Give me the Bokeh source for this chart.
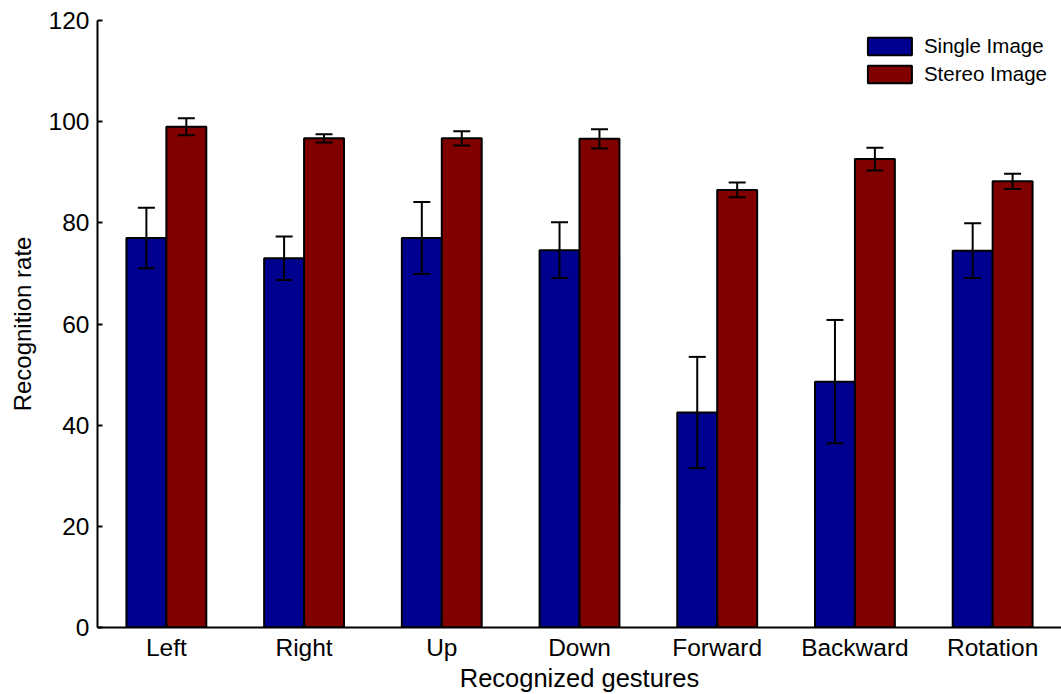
from bokeh.plotting import figure
from bokeh.models import ColumnDataSource, Whisker, TeeHead, FixedTicker, Legend, LegendItem, Range1d
from bokeh.embed import file_html
from bokeh.resources import INLINE

categories = ["Left", "Right", "Up", "Down", "Forward", "Backward", "Rotation"]
single = [77.0, 73.0, 77.0, 74.6, 42.5, 48.6, 74.5]
single_err = [6.0, 4.3, 7.1, 5.5, 11.0, 12.2, 5.4]
stereo = [99.0, 96.7, 96.7, 96.6, 86.5, 92.6, 88.2]
stereo_err = [1.7, 0.8, 1.4, 1.9, 1.45, 2.25, 1.5]
y_ticks = [0, 20, 40, 60, 80, 100, 120]

series_names = ["Single Image", "Stereo Image"]
colors = ["#00008F", "#800000"]
bar_w = 0.29
offsets = [-bar_w / 2, bar_w / 2]

FONT = "Liberation Sans"

p = figure(width=1061, height=694, output_backend="svg", toolbar_location=None,
           x_range=Range1d(0.5, 7.5), y_range=Range1d(0, 120),
           min_border_left=97, min_border_top=20, min_border_right=0, min_border_bottom=66)
p.outline_line_color = None
p.xgrid.visible = False
p.ygrid.visible = False
p.background_fill_color = "white"
p.border_fill_color = "white"

xs = list(range(1, len(categories) + 1))
renderers = []
for vals, errs, off, col in [(single, single_err, offsets[0], colors[0]),
                             (stereo, stereo_err, offsets[1], colors[1])]:
    src = ColumnDataSource(dict(
        x=[x + off for x in xs], top=vals,
        upper=[v + e for v, e in zip(vals, errs)],
        lower=[v - e for v, e in zip(vals, errs)]))
    r = p.vbar(x="x", top="top", bottom=0, width=bar_w, source=src,
               fill_color=col, line_color="black", line_width=2)
    renderers.append(r)
    w = Whisker(source=src, base="x", upper="upper", lower="lower",
                line_color="black", line_width=2, level="annotation",
                upper_head=TeeHead(size=17, line_color="black", line_width=2),
                lower_head=TeeHead(size=17, line_color="black", line_width=2))
    p.add_layout(w)

legend = Legend(items=[LegendItem(label=n, renderers=[r]) for n, r in zip(series_names, renderers)],
                location="top_right", border_line_color=None, background_fill_alpha=0,
                glyph_width=55, glyph_height=22, label_text_font=FONT, label_text_font_size="20.5px",
                label_text_color="black",
                label_standoff=7, spacing=4, padding=0, margin=14, label_height=22)
p.add_layout(legend)

p.xaxis.ticker = FixedTicker(ticks=xs)
p.xaxis.major_label_overrides = {i + 1: c for i, c in enumerate(categories)}
p.yaxis.ticker = FixedTicker(ticks=y_ticks)

for ax in (p.xaxis, p.yaxis):
    ax.axis_line_width = 2
    ax.axis_line_color = "black"
    ax.major_tick_in = 5
    ax.major_tick_out = 0
    ax.major_tick_line_width = 2
    ax.minor_tick_line_color = None
    ax.major_label_text_font = FONT
    ax.major_label_text_font_size = "24.5px"
    ax.major_label_text_color = "black"
    ax.axis_label_text_font = FONT
    ax.axis_label_text_font_style = "normal"
    ax.axis_label_text_color = "black"

p.xaxis.axis_label_text_font_size = "25.5px"
p.yaxis.axis_label_text_font_size = "24px"
p.xaxis.axis_label = "Recognized gestures"
p.yaxis.axis_label = "Recognition rate"
p.xaxis.major_label_standoff = 6
p.yaxis.major_label_standoff = 8
p.xaxis.axis_label_standoff = 0
p.yaxis.axis_label_standoff = 10

open("out.html", "w").write(file_html(p, INLINE))
